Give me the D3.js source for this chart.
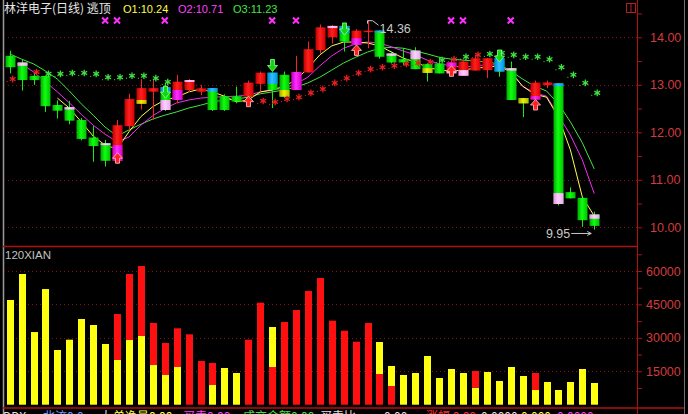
<!DOCTYPE html>
<html><head><meta charset="utf-8">
<script src="https://cdn.jsdelivr.net/npm/d3@7"></script>
<style>body{margin:0;background:#000;overflow:hidden}svg{display:block}</style>
</head><body>
<svg id="c" width="688" height="414"></svg>
<script>
// ---------- DATA ----------
const title = "林洋电子(日线) 逃顶";
const opens  = [13.61,13.47,13.19,13.185,12.575,12.53,12.26,11.89,11.77,11.40,12.13,12.60,12.855,12.95,12.68,12.89,12.855,12.93,12.76,12.76,12.75,13.02,13.255,13.21,12.89,13.26,13.73,14.00,14.24,13.84,14.11,14.14,13.66,13.54,13.72,13.44,13.45,13.24,13.19,13.30,13.31,13.56,13.35,12.72,12.69,12.995,13.03,10.74,10.62,10.27];
const highs  = [13.72,13.54,13.25,13.19,12.67,12.66,12.30,12.13,11.84,12.26,12.81,13.12,13.12,13.03,13.21,13.12,13.00,12.93,12.80,12.96,13.09,13.28,13.255,13.28,13.61,13.91,14.27,14.26,14.24,14.17,14.36,14.14,13.70,13.77,13.79,13.46,13.59,13.52,13.53,13.63,13.56,13.56,13.49,12.72,13.09,13.09,13.03,10.84,10.62,10.33];
const lows   = [13.24,12.88,13.00,12.43,12.29,12.17,11.83,11.38,11.28,11.35,12.05,12.48,12.26,12.45,12.61,12.85,12.78,12.45,12.45,12.61,12.70,12.855,12.51,12.72,12.89,13.26,13.66,13.87,13.70,13.84,13.77,13.55,13.45,13.42,13.33,13.07,13.24,13.24,13.19,13.30,13.14,13.17,12.68,12.32,12.69,12.93,10.46,10.61,10.01,9.95];
const closes = [13.37,13.10,13.10,12.55,12.455,12.245,11.86,11.71,11.40,12.15,12.70,12.93,12.93,12.47,13.065,13.10,12.925,12.47,12.47,12.645,13.045,13.255,12.89,12.75,13.27,13.75,14.21,14.24,13.91,14.14,14.14,13.59,13.47,13.47,13.33,13.25,13.24,13.47,13.49,13.56,13.56,13.28,12.68,12.61,13.045,13.05,10.49,10.61,10.15,10.03];

// O1 (yellow), O2 (magenta), O3 (green) lines
const ma1 = [null,null,null,null,12.72,12.51,12.22,11.92,11.73,11.65,12.01,12.33,12.54,12.68,12.74,12.85,12.91,12.85,12.76,12.64,12.68,12.85,12.89,12.97,13.10,13.35,13.63,13.82,13.90,13.90,13.88,13.82,13.69,13.56,13.48,13.37,13.31,13.29,13.31,13.35,13.37,13.40,13.27,12.97,12.80,12.74,12.32,11.63,10.64,10.24];
const ma2 = [null,13.44,13.27,13.06,12.85,12.62,12.38,12.15,11.96,11.80,11.90,12.15,12.35,12.50,12.62,12.68,12.72,12.74,12.75,12.76,12.78,12.85,12.89,12.93,13.02,13.16,13.40,13.61,13.77,13.86,13.90,13.88,13.80,13.71,13.63,13.52,13.44,13.40,13.37,13.40,13.42,13.42,13.27,12.97,12.83,12.76,12.36,11.94,11.42,10.71];
const ma3 = [13.65,13.54,13.44,13.29,13.12,12.87,12.60,12.36,12.11,11.92,12.05,12.17,12.28,12.36,12.43,12.51,12.57,12.64,12.68,12.70,12.74,12.81,12.85,12.89,12.95,13.04,13.16,13.31,13.46,13.58,13.69,13.77,13.79,13.77,13.71,13.65,13.58,13.54,13.52,13.50,13.48,13.44,13.29,13.12,12.97,12.87,12.60,12.22,11.78,11.23];

// coloured body segments: [candle, colour code, from price, to price]
const accents = [[1,'P',13.47,13.40],[5,'P',12.53,12.48],[8,'P',11.77,11.73],[9,'M',11.73,11.40],[11,'Y',12.68,12.60],
 [13,'B',12.95,12.855],[13,'P',12.68,12.47],[14,'M',12.89,12.68],[15,'P',13.10,13.06],[17,'B',12.93,12.855],
 [22,'B',13.255,13.02],[23,'Y',12.89,12.75],[24,'M',13.27,12.89],[27,'P',14.24,14.195],[28,'B',14.24,14.085],
 [29,'M',13.98,13.84],[31,'B',14.14,14.10],[32,'P',13.66,13.61],[34,'P',13.72,13.54],[35,'Y',13.35,13.25],
 [37,'M',13.47,13.38],[37,'P',13.31,13.24],[38,'P',13.31,13.19],[41,'B',13.56,13.28],[42,'P',13.35,13.30],
 [43,'Y',12.72,12.61],[44,'M',12.76,12.69],[46,'B',13.03,12.97],[46,'P',10.72,10.49],[49,'P',10.27,10.18]];

// star markers: candle index, price, colour (R/G)
const starIdx   = [0,2,3,4,5,6,7,8,9,10,11,12,13,21,22,23,24,25,26,27,28,29,30,31,32,33,34,35,36,37,38,39,40,41,42,43,44,45,46,47,48,49];
const starPrice = [13.12,13.27,13.23,13.23,13.25,13.25,13.23,13.16,13.16,13.19,13.19,13.14,13.06,12.66,12.64,12.70,12.74,12.83,12.91,13.04,13.14,13.25,13.33,13.37,13.40,13.44,13.46,13.48,13.52,13.54,13.59,13.63,13.65,13.67,13.63,13.59,13.59,13.54,13.37,13.21,13.04,12.83];
const starColor = "RRGGGGGGGGGGGRRRRRRRRRRRRRRRGRGRGGGGGGGGGG";

// signal arrows
const downArrowIdx = [13,22,28,41];
const downArrowTip = [12.72,13.28,14.05,13.48];
const upArrowIdx = [9,20,29,37,44];
const upArrowTip = [11.57,12.76,13.84,13.40,12.69];
const topMarkIdx = [8,9,13,22,24,37,38,42];

// volume panel "120XIAN"
const volume = [47000,58650,32600,51900,24550,29170,38450,35760,27240,40700,58650,62230,36660,27680,34280,31590,19610,18710,16470,14220,29170,45770,34860,37100,42490,51020,56850,37690,33200,28270,36660,28130,17370,13330,14220,21850,11980,16020,14220,15120,14670,10630,16920,12880,14220,10190,6600,10190,16020,9740];
const volLower = [47000,58650,32600,51900,24550,29170,38450,35760,27240,20060,29030,30830,17810,13330,16920,31590,19610,8840,16470,14220,29170,45770,16920,37100,42490,51020,56850,37690,33200,28270,36660,13780,8390,13330,14220,21850,11980,16020,14220,7630,7040,10630,16920,12880,6600,4800,6600,10190,16020,9740];
const volLowerColor = "YYYYYYYYYYYYYYYRRYYYRRRRRRRRRRRRRYYYYYYYYYYYYYYYYY";
const volUpperColor = "YYYYYYYYYRRRRRRRRRYYRRYRRRRRRRRYYYYYYYRRYYYRRYYYY";

const priceTicks = [10,10.5,11,11.5,12,12.5,13,13.5,14,14.5];
const priceGrid = [10,11,12,13,14];
const volTicks = [7500,15000,22500,30000,37500,45000,52500,60000,67500];
const volGrid = [15000,30000,45000,60000];

// bottom status line (only its top edge is visible)
const statusText = ['DDX:','北流0.0','大','单净量0.00','买卖0.00','成交金额0.00','买卖比','0.00','涨幅 0.00','0.0000','0.000','0.0000'];

// ---------- CHART ----------
const N = opens.length;
const svg = d3.select('#c');
const RIGHT = 637;
const x = d3.scaleBand().domain(d3.range(N)).range([3.7, 3.7 + 11.93 * N]);
const cx = i => x(i) + x.bandwidth() / 2;
const y = d3.scaleLinear().domain([10, 14]).range([227.3, 37.3]);
const yv = d3.scaleLinear().domain([0, 60000]).range([404.7, 271]);

svg.append('rect').attr('width',688).attr('height',414).attr('fill','#000');
const defs = svg.append('defs');
function grad(id, c0, c1, c2){
  const g = defs.append('linearGradient').attr('id',id).attr('x1',0).attr('x2',1).attr('y1',0).attr('y2',0);
  g.append('stop').attr('offset','0%').attr('stop-color',c0);
  g.append('stop').attr('offset','45%').attr('stop-color',c1);
  g.append('stop').attr('offset','100%').attr('stop-color',c2);
}
grad('gG','#00a800','#10ff10','#00c000');
grad('gR','#c00000','#ff2020','#d80000');
grad('gP','#e890e8','#ffd0ff','#f0a8f0');
grad('gM','#c000c0','#ff30ff','#d000d0');
grad('gB','#0080e0','#30c0ff','#0090f0');
grad('gY','#a8a800','#f0f000','#b8b800');
const gradOf = {R:'url(#gR)',G:'url(#gG)',P:'url(#gP)',M:'url(#gM)',B:'url(#gB)',Y:'url(#gY)'};
defs.append('clipPath').attr('id','cp').append('rect').attr('x',4).attr('y',0).attr('width',RIGHT-4).attr('height',246);

// frame
svg.append('line').attr('x1',3.5).attr('x2',3.5).attr('y1',0).attr('y2',414).attr('stroke','#9a9a9a').attr('stroke-width',1.5);
svg.append('line').attr('x1',RIGHT+0.5).attr('x2',RIGHT+0.5).attr('y1',0).attr('y2',414).attr('stroke','#b01010');
svg.append('line').attr('x1',684.5).attr('x2',684.5).attr('y1',0).attr('y2',414).attr('stroke','#707070');
svg.append('line').attr('x1',3).attr('x2',RIGHT).attr('y1',246.5).attr('y2',246.5).attr('stroke','#b01010').attr('stroke-width',1.5);
svg.append('line').attr('x1',3).attr('x2',684).attr('y1',408).attr('y2',408).attr('stroke','#b01010').attr('stroke-width',1.5);
// icon top-right
svg.append('rect').attr('x',626.5).attr('y',3.5).attr('width',9).attr('height',9).attr('fill','none').attr('stroke','#b02020');
svg.append('line').attr('x1',631).attr('x2',631).attr('y1',3.5).attr('y2',12.5).attr('stroke','#b02020');

// grids
svg.append('g').selectAll('line').data(priceGrid).join('line')
  .attr('x1',4).attr('x2',RIGHT).attr('y1',d=>Math.round(y(d))+0.5).attr('y2',d=>Math.round(y(d))+0.5)
  .attr('stroke','#8a1010').attr('stroke-dasharray','1,3');
svg.append('g').selectAll('line').data(volGrid).join('line')
  .attr('x1',4).attr('x2',RIGHT).attr('y1',d=>Math.round(yv(d))+0.5).attr('y2',d=>Math.round(yv(d))+0.5)
  .attr('stroke','#8a1010').attr('stroke-dasharray','1,3');

// axes
const ax1 = svg.append('g').attr('transform',`translate(${RIGHT},0)`)
  .call(d3.axisRight(y).tickValues(priceTicks).tickSize(5).tickPadding(8)
    .tickFormat(d => Number.isInteger(d) ? d.toFixed(2) : ''));
const ax2 = svg.append('g').attr('transform',`translate(${RIGHT},0)`)
  .call(d3.axisRight(yv).tickValues(volTicks).tickSize(5).tickPadding(4)
    .tickFormat(d => d % 15000 === 0 ? String(d) : ''));
[ax1, ax2].forEach(a => {
  a.select('.domain').remove();
  a.selectAll('line').attr('stroke','#b01010');
  a.selectAll('text').attr('fill','#d23c3c').style('font-family','"Liberation Sans", Arial, sans-serif').style('font-size','12.5px');
});

const main = svg.append('g').attr('clip-path','url(#cp)');

// MA lines
const lineGen = d3.line().defined(d => d[1] != null).x(d => cx(d[0])).y(d => y(d[1]));
[[ma3,'#40e840'],[ma2,'#f030f0'],[ma1,'#ffff50']].forEach(([arr,col]) => {
  main.append('path').datum(arr.map((v,i)=>[i,v])).attr('d',lineGen)
    .attr('fill','none').attr('stroke',col).attr('stroke-width',1);
});

// candles
const idx = d3.range(N);
const up = i => closes[i] >= opens[i];
main.append('g').selectAll('line').data(idx).join('line')
  .attr('x1',i=>Math.round(cx(i))+0.5).attr('x2',i=>Math.round(cx(i))+0.5)
  .attr('y1',i=>y(highs[i])).attr('y2',i=>y(lows[i]))
  .attr('stroke',i=>up(i)?'#ff2020':'#10f010');
main.append('g').selectAll('rect').data(idx).join('rect')
  .attr('x',i=>Math.round(cx(i))-4.5).attr('width',10)
  .attr('y',i=>y(Math.max(opens[i],closes[i])))
  .attr('height',i=>Math.max(1.5, y(Math.min(opens[i],closes[i])) - y(Math.max(opens[i],closes[i]))))
  .attr('fill',i=>up(i)?gradOf.R:gradOf.G);
main.append('g').selectAll('rect').data(accents).join('rect')
  .attr('x',d=>Math.round(cx(d[0]))-4.5).attr('width',10)
  .attr('y',d=>y(d[2])).attr('height',d=>y(d[3])-y(d[2]))
  .attr('fill',d=>gradOf[d[1]]);

// stars
const stars = main.append('g').selectAll('g').data(starIdx.map((v,k)=>({i:v,p:starPrice[k],c:starColor[k]}))).join('g')
  .attr('transform',d=>`translate(${cx(d.i)+3},${y(d.p)})`);
stars.append('path').attr('d','M0,-3.3V3.3M-2.9,-1.7L2.9,1.7M-2.9,1.7L2.9,-1.7')
  .attr('stroke',d=>d.c==='G'?'#40e040':'#e82020').attr('stroke-width',1.3);
stars.append('rect').attr('x',-6).attr('y',2).attr('width',1).attr('height',1)
  .attr('fill',d=>d.c==='G'?'#40e040':'#e82020');

// arrows
main.append('g').selectAll('path').data(downArrowIdx.map((v,k)=>[v,downArrowTip[k]])).join('path')
  .attr('transform',d=>`translate(${Math.round(cx(d[0]))+0.5},${y(d[1])})`)
  .attr('d','M0,0L-5,-6L-2,-6L-2,-12L2,-12L2,-6L5,-6Z')
  .attr('fill','#10d810').attr('stroke','#90ff90').attr('stroke-width',0.8);
main.append('g').selectAll('path').data(upArrowIdx.map((v,k)=>[v,upArrowTip[k]])).join('path')
  .attr('transform',d=>`translate(${Math.round(cx(d[0]))+0.5},${y(d[1])})`)
  .attr('d','M0,0L-5,5.5L-2,5.5L-2,10.5L2,10.5L2,5.5L5,5.5Z')
  .attr('fill','#ff2020').attr('stroke','#ffb0b0').attr('stroke-width',0.9);

// top markers
main.append('g').selectAll('path').data(topMarkIdx).join('path')
  .attr('transform',i=>`translate(${cx(i)},20.5)`)
  .attr('d','M-3,-3L3,3M-3,3L3,-3')
  .attr('stroke','#ff30ff').attr('stroke-width',2);

// high / low labels
const hiI = d3.maxIndex(highs), loI = d3.minIndex(lows);
const hx = Math.round(cx(hiI)) - 0.5, hy = y(highs[hiI]);
svg.append('path').attr('d',`M${hx},${hy+3.5}V${hy+0.5}H${hx+5}L${hx+11},${hy+5}`).attr('fill','none').attr('stroke','#c8c8c8');
svg.append('text').attr('x',hx+12).attr('y',hy+12.5).text(highs[hiI].toFixed(2))
  .attr('fill','#c8c8c8').style('font-family','"Liberation Sans", Arial, sans-serif').style('font-size','12.5px');
const lx = cx(loI), ly = y(lows[loI]) + 3.8;
svg.append('path').attr('d',`M${lx-23},${ly}H${lx-3}M${lx-7},${ly-2}L${lx-3},${ly}L${lx-7},${ly+2}`).attr('fill','none').attr('stroke','#c8c8c8');
svg.append('text').attr('x',lx-24).attr('y',ly+4.5).attr('text-anchor','end').text(lows[loI].toFixed(2))
  .attr('fill','#c8c8c8').style('font-family','"Liberation Sans", Arial, sans-serif').style('font-size','12.5px');

// volume bars
const vb = svg.append('g');
vb.selectAll('rect.lo').data(idx).join('rect').attr('class','lo')
  .attr('x',i=>Math.round(cx(i))-3).attr('width',7)
  .attr('y',i=>yv(volLower[i])).attr('height',i=>yv(0)-yv(volLower[i]))
  .attr('fill',i=>volLowerColor[i]==='R'?'#ff1010':'#ffff10');
vb.selectAll('rect.hi').data(idx.filter(i=>volume[i]>volLower[i])).join('rect').attr('class','hi')
  .attr('x',i=>Math.round(cx(i))-3).attr('width',7)
  .attr('y',i=>yv(volume[i])).attr('height',i=>yv(volLower[i])-yv(volume[i]))
  .attr('fill',i=>volUpperColor[i]==='R'?'#ff1010':'#ffff10');

svg.append('text').attr('x',5).attr('y',259).text('120XIAN').attr('fill','#c0c0c0')
  .style('font-family','"Liberation Sans", Arial, sans-serif').style('font-size','11.5px');

// title
const tf = '"Noto Sans CJK SC", sans-serif';
svg.append('text').attr('x',4).attr('y',13).text(title).attr('fill','#e6e6e6').style('font-family',tf).style('font-size','12px');
const legend = [['O1',ma1,'#ffff40',123],['O2',ma2,'#ff40ff',178],['O3',ma3,'#40e840',233]];
svg.append('g').selectAll('text').data(legend).join('text')
  .attr('x',d=>d[3]).attr('y',13).text(d=>`${d[0]}:${d[1][N-1].toFixed(2)}`).attr('fill',d=>d[2])
  .style('font-family','"Liberation Sans", Arial, sans-serif').style('font-size','11px');

// bottom (cut-off) status line
const statusX = [3,43,100,113,183,243,320,384,426,481,521,557];
const statusCol = ['#e0e0e0','#60a0ff','#e0e0e0','#ffff40','#ff40ff','#40e040','#e0e0e0','#e0e0e0','#ff3030','#e0e0e0','#ffff40','#ff40ff'];
svg.append('g').selectAll('text').data(statusText).join('text')
  .attr('x',(d,k)=>statusX[k]).attr('y',421).text(d=>d).attr('fill',(d,k)=>statusCol[k])
  .style('font-family',tf).style('font-size','12px');
</script>
</body></html>
